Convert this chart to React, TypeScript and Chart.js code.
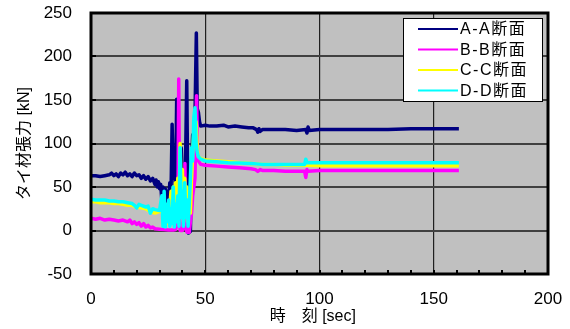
import React, { useEffect, useRef } from "react";
import { Chart, registerables } from "chart.js";

Chart.register(...registerables);

// ---- Data ----
const seriesNames = ["A-A断面", "B-B断面", "C-C断面", "D-D断面"];
const seriesColors = ["#000080", "#ff00ff", "#ffff00", "#00ffff"];

const xTicks = [0, 50, 100, 150, 200];
const yTicks = [-50, 0, 50, 100, 150, 200, 250];

const timesA = [0, 2, 4, 6, 8, 9, 10, 11, 12, 13, 14, 15, 16, 17, 18, 19, 20, 21, 22, 23, 24, 25, 26, 27, 28, 28.5, 29, 29.5, 30, 30.5, 31, 31.5, 32, 32.5, 33, 33.5, 34, 34.5, 35, 35.5, 36, 36.5, 37, 37.5, 38, 38.5, 39, 39.5, 40, 40.5, 41, 41.5, 41.9, 42.3, 42.6, 43, 43.5, 44, 44.5, 45, 45.5, 46.1, 46.5, 47, 47.5, 48, 50, 52, 55, 58, 60, 63, 66, 69, 71, 72.5, 73, 73.5, 74, 75, 80, 85, 90, 94, 94.5, 95, 95.5, 100, 110, 120, 130, 140, 150, 155, 161];
const valuesA = [63, 63, 62, 63, 64, 66, 63, 65, 62, 66, 64, 67, 63, 65, 62, 66, 63, 64, 60, 63, 59, 62, 57, 60, 53, 58, 50, 56, 48, 53, 35, 50, 42, 48, 30, 45, 38, 55, 40, 122, 60, 70, 45, 151, 55, 80, 40, 95, 30, 75, 50, 100, 172, 60, -3, -2, -1, 80, 110, 95, 130, 227, 140, 136, 125, 120, 121, 120, 120, 121, 119, 120, 119, 118, 118, 116, 113, 117, 114, 116, 116, 116, 115, 116, 112, 119, 115, 116, 116, 116, 116, 117, 117, 117, 117];

const timesB = [0, 2, 4, 6, 8, 10, 12, 14, 16, 17, 18, 19, 20, 21, 22, 23, 24, 25, 26, 27, 28, 30, 32, 34, 36, 37, 38, 38.4, 38.8, 39, 40, 40.8, 41.1, 41.4, 42, 43, 43.5, 44, 44.5, 45, 45.5, 46.2, 46.6, 47, 48, 50, 55, 60, 65, 70, 72, 73, 74, 75, 80, 85, 90, 93.5, 94, 94.5, 95, 100, 110, 120, 130, 140, 150, 161];
const valuesB = [14, 13, 14, 12, 13, 12, 11, 12, 10, 12, 8, 10, 7, 9, 5, 8, 4, 6, 3, 4, 2, 1.5, 1, 0.5, 0.5, 1, 10, 174, 20, 0, 0, 5, 77, 5, -2, -2, 10, 20, 40, 50, 60, 155, 90, 80, 76, 75, 74, 73, 72, 71, 70, 68, 70, 69, 69, 68, 68, 68, 61, 70, 68, 69, 69, 69, 69, 69, 69, 69];

const timesC = [0, 2, 4, 6, 8, 10, 12, 14, 16, 18, 20, 22, 24, 26, 28, 30, 31, 32, 33, 34, 35, 35.5, 36, 36.5, 37, 37.5, 38, 38.5, 39, 39.5, 40, 40.5, 41, 41.5, 42, 42.5, 43, 43.5, 44, 44.5, 45, 45.5, 46, 46.5, 47, 48, 50, 55, 60, 65, 70, 75, 80, 85, 90, 94, 95, 100, 110, 120, 130, 140, 150, 161];
const valuesC = [33, 33, 32, 32, 32, 31, 31, 30, 29, 29, 27, 26, 25, 22, 20, 22, 23, 10, 30, 8, 45, 20, 50, 10, 55, 30, 60, 20, 100, 40, 70, 10, 60, 30, 50, 10, 40, 20, 60, 90, 115, 100, 125, 95, 85, 83, 81, 80, 79, 78, 77, 76, 76, 75, 75, 75, 75, 74.5, 74.5, 74.5, 74.5, 74.5, 74.5, 74.5];

const timesD = [0, 2, 4, 6, 8, 10, 12, 14, 16, 18, 19, 20, 21, 22, 24, 25, 26, 27, 28, 30, 31, 31.5, 32, 32.5, 33, 33.5, 34, 34.5, 35, 35.5, 36, 36.5, 37, 37.5, 38, 38.5, 39, 39.5, 40, 40.5, 41, 41.5, 42, 42.5, 43, 43.5, 44, 44.5, 45, 45.5, 46, 46.5, 47, 48, 50, 55, 60, 65, 70, 75, 80, 85, 90, 93.5, 94, 94.5, 100, 110, 120, 130, 140, 150, 161];
const valuesD = [36, 35, 35, 35, 34, 34, 33, 33, 32, 31, 29, 26, 30, 29, 27, 28, 20, 25, 24, 23, 40, 5, 45, 4, 30, 10, 35, 5, 25, 8, 50, 4, 30, 10, 40, 5, 95, 15, 45, 5, 55, 15, 35, 5, 30, 60, 95, 80, 130, 141, 100, 90, 85, 82, 80, 79, 78, 77.5, 77, 76, 76, 76, 76, 76, 82, 78, 78, 78, 78, 78, 78, 78, 78];

const allTimes = [timesA, timesB, timesC, timesD];
const allValues = [valuesA, valuesB, valuesC, valuesD];

const FONT = "'Liberation Sans', Arial, 'Noto Sans CJK JP', sans-serif";

const framePlugin = {
  id: "framePlugin",
  beforeDraw(chart: any) {
    const { ctx, chartArea } = chart;
    ctx.save();
    ctx.fillStyle = "#c0c0c0";
    ctx.fillRect(chartArea.left, chartArea.top, chartArea.right - chartArea.left, chartArea.bottom - chartArea.top);
    ctx.restore();
  },
  afterDraw(chart: any) {
    const { ctx, chartArea } = chart;
    const xs = chart.scales.x;
    const ys = chart.scales.y;
    ctx.save();
    ctx.strokeStyle = "#000";
    ctx.lineWidth = 2;
    for (let v = xs.min + 10; v < xs.max; v += 10) {
      const px = Math.round(xs.getPixelForValue(v));
      ctx.beginPath();
      ctx.moveTo(px, chartArea.bottom);
      ctx.lineTo(px, chartArea.bottom - 4);
      ctx.stroke();
    }
    for (const v of yTicks) {
      const py = Math.round(ys.getPixelForValue(v));
      ctx.beginPath();
      ctx.moveTo(chartArea.left, py);
      ctx.lineTo(chartArea.left + 5, py);
      ctx.stroke();
    }
    ctx.lineWidth = 3;
    ctx.strokeRect(chartArea.left, chartArea.top, chartArea.right - chartArea.left, chartArea.bottom - chartArea.top);

    // legend
    const bw = 139, bh = 83;
    const bx = chartArea.right - 6 - bw;
    const by = chartArea.top + 5;
    ctx.fillStyle = "#fff";
    ctx.fillRect(bx, by, bw, bh);
    ctx.lineWidth = 1;
    ctx.strokeStyle = "#000";
    ctx.strokeRect(bx + 0.5, by + 0.5, bw, bh);
    ctx.font = `16px ${FONT}`;
    (ctx as any).letterSpacing = "1.5px";
    ctx.textBaseline = "middle";
    ctx.textAlign = "left";
    chart.data.datasets.forEach((ds: any, i: number) => {
      const ry = by + 11 + i * 20.5;
      ctx.strokeStyle = ds.borderColor;
      ctx.lineWidth = 2;
      ctx.beginPath();
      ctx.moveTo(bx + 15, ry);
      ctx.lineTo(bx + 55, ry);
      ctx.stroke();
      ctx.fillStyle = "#000";
      ctx.fillText(ds.label, bx + 57, ry + 1);
    });
    ctx.restore();
  },
};

export default function App() {
  const ref = useRef<HTMLCanvasElement | null>(null);
  useEffect(() => {
    if (!ref.current) return;
    const datasets = seriesNames.map((name, i) => ({
      label: name,
      data: allTimes[i].map((t, k) => ({ x: t, y: allValues[i][k] })),
      borderColor: seriesColors[i],
      backgroundColor: seriesColors[i],
      borderWidth: 3.5,
      pointRadius: 0,
      tension: 0,
      borderJoinStyle: "round" as const,
      order: 4 - i,
    }));
    const chart = new Chart(ref.current, {
      type: "line",
      data: { datasets },
      plugins: [framePlugin],
      options: {
        animation: false,
        responsive: false,
        devicePixelRatio: 1,
        layout: { padding: { top: 13, right: 22, left: 0, bottom: 0 } },
        plugins: { legend: { display: false }, tooltip: { enabled: false } },
        scales: {
          x: {
            type: "linear",
            min: 0,
            max: 200,
            afterFit: (s: any) => { s.height = 55; s.paddingLeft = 0; s.paddingRight = 0; },
            afterBuildTicks: (s: any) => { s.ticks = xTicks.map((v) => ({ value: v })); },
            ticks: { color: "#000", font: { size: 17, family: FONT }, padding: 15, maxRotation: 0 },
            grid: { color: "#202020", lineWidth: 1.2, drawTicks: false },
            border: { display: false },
            title: { display: true, text: "時　刻 [sec]   ", color: "#000", font: { size: 16, family: FONT }, padding: { top: 0, bottom: 3 } },
          },
          y: {
            type: "linear",
            min: -50,
            max: 250,
            afterFit: (s: any) => { s.width = 91; s.paddingTop = 0; s.paddingBottom = 0; },
            afterBuildTicks: (s: any) => { s.ticks = yTicks.map((v) => ({ value: v })); },
            ticks: { color: "#000", font: { size: 17, family: FONT }, padding: 19 },
            grid: { color: "#404040", lineWidth: 2, drawTicks: false },
            border: { display: false },
            title: { display: true, text: "タイ材張力 [kN]", color: "#000", font: { size: 16, family: FONT }, padding: { top: 15, bottom: 0 } },
          },
        },
      },
    });
    return () => chart.destroy();
  }, []);
  return (
    <div style={{ position: "fixed", left: 0, top: 0, width: 570, height: 329, background: "#fff" }}>
      <canvas ref={ref} width={570} height={329} />
    </div>
  );
}
